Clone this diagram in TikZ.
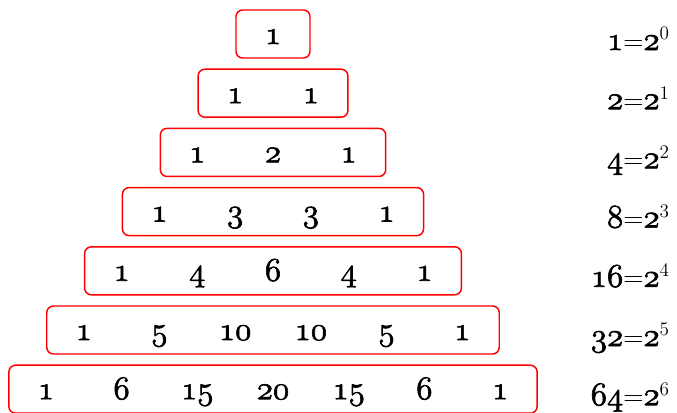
\documentclass[tikz,border=0pt]{standalone}
\usetikzlibrary{positioning}
\newcommand{\osf}[1]{{\usefont{OML}{cmm}{m}{it}\special{pdf:literal direct 0.45 w 2 Tr}#1\special{pdf:literal direct 0 Tr}}}
\tikzset{
  rowbox/.style={draw=red,line width=1.1pt,rounded corners=5pt,minimum height=36pt,inner sep=0pt},
  entry/.style={anchor=base,inner sep=0pt,font=\fontsize{25}{28}\selectfont},
  power/.style={anchor=base east,inner sep=0pt,font=\fontsize{27}{30}\selectfont}
}
\begin{document}
\begin{tikzpicture}[x=0.75pt,y=-0.75pt]
  \useasboundingbox (0,0) rectangle (677,412);
  % one box per row of the triangle, the entries inside it
  \foreach \i/\vals in {0/{1},1/{1,1},2/{1,2,1},3/{1,3,3,1},4/{1,4,6,4,1},5/{1,5,10,10,5,1},6/{1,6,15,20,15,6,1}}{
    \pgfmathsetmacro\w{(\i*75.7+74)*0.75}
    \node[rowbox,minimum width=\w pt] (row\i) at (273,{34+59.2*\i}) {};
    \foreach \v [count=\k from 0] in \vals
      \node[entry] (n\i-\k) at ({273+(\k-\i/2)*75.7},{44+59.2*\i}) {\osf{\v}};
    % row sum on the right
    \pgfmathtruncatemacro\p{2^\i}
    \node[power] (sum\i) at (670,{50+59.2*\i}) {\osf{\p}{\fontsize{21}{22}\selectfont=}\osf{2}{\fontsize{21}{22}\selectfont$^{\i}$}};
  }
\end{tikzpicture}
\end{document}
